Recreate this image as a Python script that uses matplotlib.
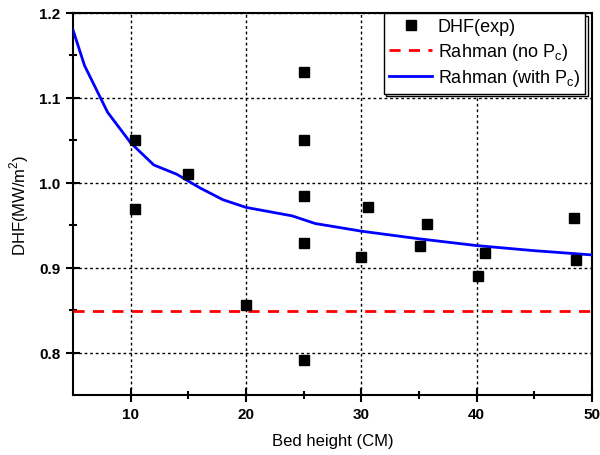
import matplotlib
matplotlib.use('Agg')
import matplotlib.pyplot as plt

plt.rcParams['font.family'] = ['Liberation Sans', 'DejaVu Sans']

# experimental points
exp_x = [10.4, 10.4, 15.0, 20.0, 25.0, 25.0, 25.0, 25.0, 25.0, 30.0, 30.6,
         35.1, 35.7, 40.1, 40.7, 48.4, 48.6]
exp_y = [1.050, 0.969, 1.010, 0.856, 1.130, 1.050, 0.985, 0.929, 0.791, 0.912, 0.971,
         0.925, 0.951, 0.890, 0.917, 0.959, 0.909]

# Rahman without Pc (constant)
nopc_x = [5, 50]
nopc_y = [0.849, 0.849]

# Rahman with Pc
pc_x = [5, 6, 8, 10, 12, 14, 16, 18, 20, 24, 26, 30, 35, 40, 45, 50]
pc_y = [1.180, 1.138, 1.083, 1.047, 1.021, 1.010, 0.994, 0.980, 0.971, 0.961,
        0.952, 0.943, 0.934, 0.926, 0.920, 0.915]

fig = plt.figure(figsize=(6, 4.56), dpi=100)
ax = fig.add_axes([0.1217, 0.1316, 0.8650, 0.8377])

ax.plot(exp_x, exp_y, 's', color='black', markersize=7, label='DHF(exp)', zorder=4)
ax.plot(nopc_x, nopc_y, '--', color='red', lw=2, dashes=(4, 3),
        label=r'Rahman (no P$_\mathregular{c}$)', zorder=3)
ax.plot(pc_x, pc_y, '-', color='blue', lw=2,
        label=r'Rahman (with P$_\mathregular{c}$)', zorder=3)

ax.set_xlim(5, 50)
ax.set_ylim(0.75, 1.2)
ax.set_xticks([10, 20, 30, 40, 50])
ax.set_xticks([15, 25, 35, 45], minor=True)
ax.set_yticks([0.8, 0.9, 1.0, 1.1, 1.2])
ax.set_yticks([0.85, 0.95, 1.05, 1.15], minor=True)
ax.set_yticklabels(['0.8', '0.9', '1.0', '1.1', '1.2'])

ax.grid(True, which='major', color='black', linestyle=(0, (2, 2)), lw=1)
ax.tick_params(which='major', direction='inout', length=10, width=1.5,
               labelsize=11, pad=4)
ax.tick_params(which='minor', direction='inout', length=6, width=1.5)
for lab in ax.get_xticklabels() + ax.get_yticklabels():
    lab.set_fontweight('bold')
for s in ax.spines.values():
    s.set_linewidth(1.5)

ax.set_xlabel('Bed height (CM)', fontsize=12, labelpad=8)
ax.set_ylabel(r'DHF(MW/m$^\mathregular{2}$)', fontsize=12, labelpad=6)

leg = ax.legend(loc='upper right', bbox_to_anchor=(0.9865, 1.0), borderaxespad=0,
                fontsize=13, fancybox=False, framealpha=1, edgecolor='black',
                handlelength=2.4, handletextpad=0.3, labelspacing=0.3,
                borderpad=0.3,
                shadow={'facecolor': 'white', 'edgecolor': 'black', 'alpha': 1})
leg.get_frame().set_linewidth(1.0)

fig.savefig('out.png', dpi=100)
